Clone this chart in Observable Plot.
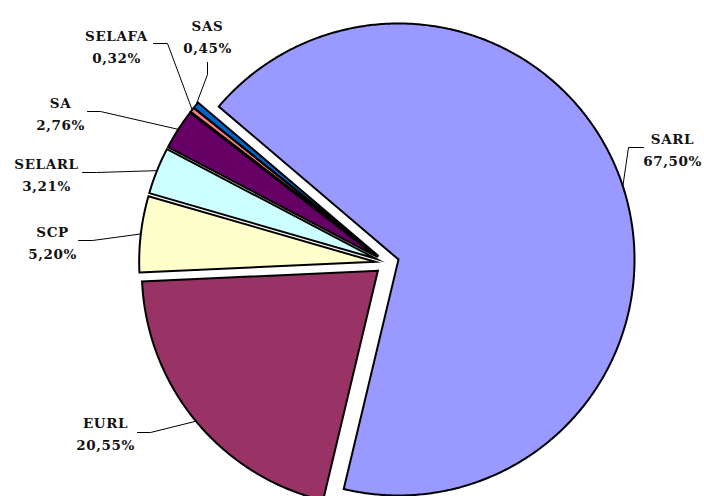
<!DOCTYPE html>
<html><head><meta charset="utf-8">
<script src="https://cdn.jsdelivr.net/npm/d3@7"></script>
<script src="https://cdn.jsdelivr.net/npm/@observablehq/plot@0.6"></script>
<style>html,body{margin:0;padding:0;background:#fff;overflow:hidden}</style>
</head><body><div id="chart"></div>
<script>
// ---- data ----
const names = ["SARL", "EURL", "SCP", "SELARL", "SA", "SELAFA", "SAS"];
const shares = [67.50, 20.55, 5.20, 3.21, 2.76, 0.32, 0.45];

// ---- styles ----
const palette = ["#9999FF", "#993366", "#FFFFCC", "#CCFFFF", "#660066", "#FF8080", "#0066CC"];

// ---- layout (frame units) ----
const W = 704, H = 496;
const cx = 386.6, cy = 262.7, R = 236, explode = 12;
const startDeg = 310.4;
const labelLayout = {
  SARL:   {lx: 672, ly: 147, p0: [643, 147], p1: [628, 147]},
  EURL:   {lx: 105, ly: 431, p0: [137, 432], p1: [150, 432]},
  SCP:    {lx: 52,  ly: 240, p0: [78, 240],  p1: [92, 240]},
  SELARL: {lx: 46,  ly: 172, p0: [82, 172],  p1: [96, 172]},
  SA:     {lx: 60,  ly: 111, p0: [87, 111],  p1: [100, 111]},
  SELAFA: {lx: 116, ly: 44,  p0: [153, 43],  p1: [167, 43]},
  SAS:    {lx: 207, ly: 34,  p0: [207, 62],  p1: [207, 74]}
};

const data = names.map((name, i) => ({name, share: shares[i]}));
const a0 = startDeg * Math.PI / 180;
const arcs = d3.pie().sort(null).value(d => d.share).startAngle(a0).endAngle(a0 + 2 * Math.PI)(data);

const slicePts = [];
const leaderPts = [];
const labels = [];
for (const a of arcs) {
  const name = a.data.name;
  const mid = (a.startAngle + a.endAngle) / 2;
  const ox = cx + explode * Math.sin(mid), oy = cy - explode * Math.cos(mid);
  const n = Math.max(2, Math.ceil((a.endAngle - a.startAngle) / (Math.PI / 360)));
  const pts = [];
  for (let k = 0; k <= n; k++) {
    const t = a.startAngle + (a.endAngle - a.startAngle) * k / n;
    pts.push([ox + R * Math.sin(t), oy - R * Math.cos(t)]);
  }
  slicePts.push({name, x: ox, y: oy});
  for (const p of pts) slicePts.push({name, x: p[0], y: p[1]});
  slicePts.push({name, x: ox, y: oy});
  slicePts.push({name, x: pts[0][0], y: pts[0][1]});
  const L = labelLayout[name];
  leaderPts.push({name, x: L.p0[0], y: L.p0[1]});
  leaderPts.push({name, x: L.p1[0], y: L.p1[1]});
  leaderPts.push({name, x: ox + R * Math.sin(mid), y: oy - R * Math.cos(mid)});
  labels.push({name, x: L.lx, y: L.ly, text: name + "\n" + a.data.share.toFixed(2).replace(".", ",") + "%"});
}

const chart = Plot.plot({
  width: W, height: H, margin: 0,
  style: {background: "#fff", letterSpacing: "0.6px"},
  x: {domain: [0, W], range: [0, W], axis: null},
  y: {domain: [0, H], range: [0, H], axis: null},
  color: {domain: names, range: palette},
  marks: [
    Plot.line(slicePts, {x: "x", y: "y", z: "name", fill: "name", stroke: "black", strokeWidth: 2, strokeLinejoin: "miter", strokeMiterlimit: 10}),
    Plot.line(leaderPts, {x: "x", y: "y", z: "name", stroke: "black", strokeWidth: 1}),
    Plot.text(labels, {x: "x", y: "y", text: "text", fontFamily: "DejaVu Serif", fontWeight: "bold", fontSize: 13.5, lineHeight: 1.63, textAnchor: "middle", lineAnchor: "middle", fill: "#111"})
  ]
});
document.getElementById("chart").appendChild(chart);
</script>
</body></html>
